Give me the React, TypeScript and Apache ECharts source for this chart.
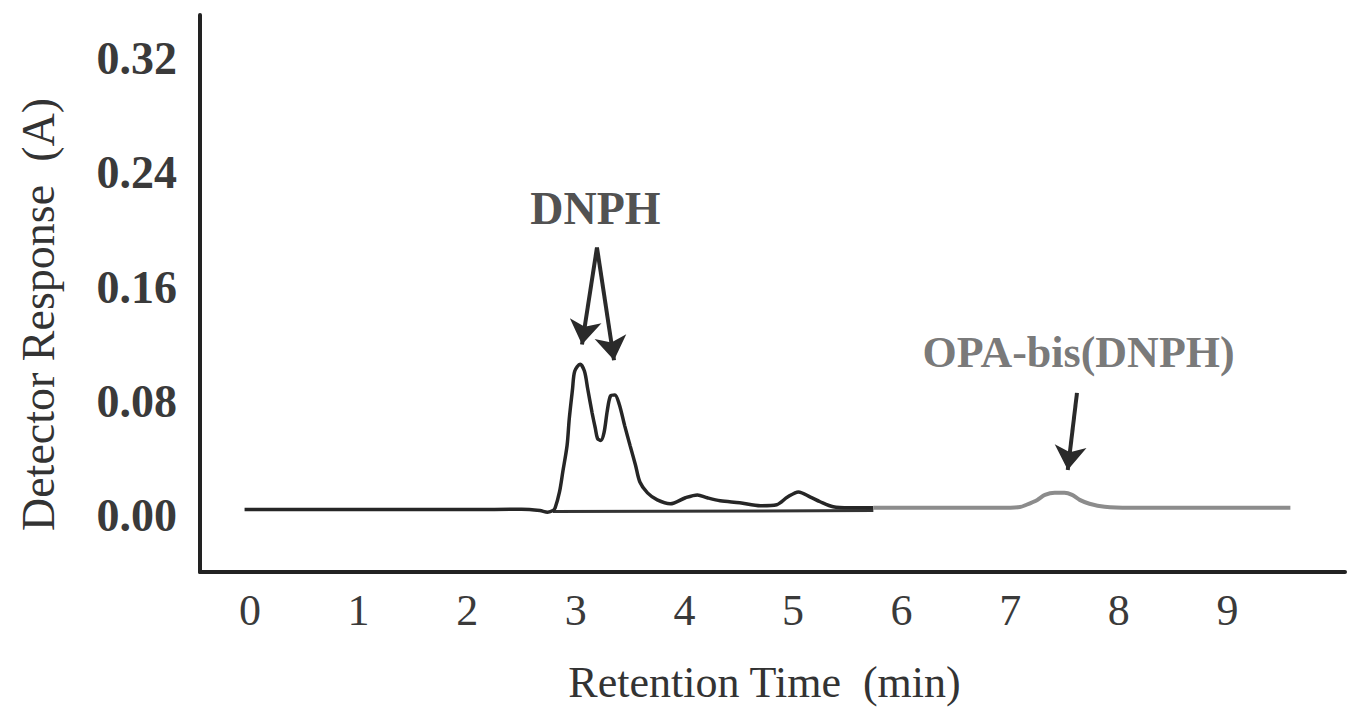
import React, { useEffect, useRef } from "react";
import * as echarts from "echarts";

const yTicks = [0, 0.08, 0.16, 0.24, 0.32];
const xTicks = [0, 1, 2, 3, 4, 5, 6, 7, 8, 9];

// Early eluting trace (DNPH region), minutes / absorbance
const blackT = [-0.05, 0.5, 1.0, 1.5, 2.0, 2.5, 2.67, 2.74, 2.79, 2.81, 2.85, 2.88, 2.92, 2.94, 2.97, 2.99, 3.04, 3.08, 3.11, 3.15, 3.18, 3.2, 3.23, 3.26, 3.29, 3.32, 3.36, 3.4, 3.45, 3.5, 3.55, 3.59, 3.66, 3.75, 3.87, 4.01, 4.12, 4.21, 4.33, 4.51, 4.7, 4.85, 4.95, 5.05, 5.16, 5.25, 5.37, 5.52, 5.74];
const blackV = [0.0042, 0.0042, 0.0042, 0.0043, 0.0043, 0.0044, 0.0035, 0.0024, 0.0035, 0.0055, 0.0166, 0.0305, 0.0492, 0.0679, 0.0886, 0.101, 0.106, 0.101, 0.0886, 0.072, 0.061, 0.054, 0.0526, 0.058, 0.0734, 0.0838, 0.0845, 0.078, 0.063, 0.049, 0.0353, 0.0235, 0.0159, 0.011, 0.0083, 0.0125, 0.0145, 0.0125, 0.0104, 0.009, 0.0069, 0.0076, 0.013, 0.0166, 0.013, 0.0097, 0.0062, 0.0055, 0.0055];

// Later trace (OPA-bis(DNPH) region)
const grayT = [5.74, 6.3, 6.91, 7.09, 7.15, 7.25, 7.32, 7.41, 7.5, 7.57, 7.64, 7.73, 7.87, 8.1, 8.8, 9.58];
const grayV = [0.0055, 0.0055, 0.0055, 0.006, 0.0076, 0.011, 0.0145, 0.016, 0.016, 0.0145, 0.011, 0.0083, 0.0062, 0.0055, 0.0055, 0.0055];

// Integration baseline under the DNPH peaks
const baseT = [2.79, 5.74];
const baseV = [0.0028, 0.0035];

// Annotations
const labelNames = ["DNPH", "OPA-bis(DNPH)"];
const labelPos = [[3.18, 0.215], [7.63, 0.114]];
const arrows = [
  [[3.195, 0.1877], [3.057, 0.1198]],
  [[3.195, 0.1877], [3.352, 0.1087]],
  [[7.615, 0.0859], [7.53, 0.0319]],
];

const zip = (a: number[], b: number[]) => a.map((v, i) => [v, b[i]]);

export default function App() {
  const ref = useRef<HTMLDivElement>(null);
  useEffect(() => {
    document.body.style.margin = "0";
    const chart = echarts.init(ref.current!, null, { renderer: "svg" });
    const serif = "Liberation Serif";
    chart.setOption({
      animation: false,
      backgroundColor: "#ffffff",
      grid: { left: 200, right: 5, top: 15, bottom: 131 },
      xAxis: {
        type: "value",
        min: -0.4604,
        max: 10.083,
        name: "Retention Time  (min)",
        nameLocation: "middle",
        nameGap: 88,
        nameTextStyle: { fontFamily: serif, fontSize: 44, color: "#333", padding: [0, 16, 0, 0] },
        axisLine: { show: true, onZero: false, lineStyle: { color: "#222", width: 4 } },
        axisTick: { show: false },
        splitLine: { show: false },
        axisLabel: {
          customValues: xTicks,
          margin: 16,
          fontFamily: serif,
          fontSize: 44,
          color: "#3a3a3a",
          formatter: (v: number) => String(v),
        },
      },
      yAxis: {
        type: "value",
        min: -0.03947,
        max: 0.3504,
        name: "Detector Response  (A)",
        nameLocation: "middle",
        nameRotate: 90,
        nameGap: 139,
        nameTextStyle: { fontFamily: serif, fontSize: 46, color: "#333", padding: [0, 42, 0, 0] },
        axisLine: { show: true, onZero: false, lineStyle: { color: "#222", width: 4 } },
        axisTick: { show: false },
        splitLine: { show: false },
        axisLabel: {
          customValues: yTicks,
          margin: 23,
          fontFamily: serif,
          fontSize: 46,
          fontWeight: "bold",
          color: "#3a3a3a",
          formatter: (v: number) => v.toFixed(2),
        },
      },
      series: [
        {
          type: "line",
          data: zip(baseT, baseV),
          symbol: "none",
          lineStyle: { color: "#333", width: 3 },
          silent: true,
        },
        {
          type: "line",
          data: zip(blackT, blackV),
          symbol: "none",
          smooth: 0.3,
          lineStyle: { color: "#262626", width: 3.5 },
          silent: true,
        },
        {
          type: "line",
          data: zip(grayT, grayV),
          symbol: "none",
          smooth: 0.3,
          lineStyle: { color: "#8c8c8c", width: 4 },
          silent: true,
          markLine: {
            silent: true,
            symbol: ["none", "arrow"],
            symbolSize: 24,
            label: { show: false },
            lineStyle: { color: "#2a2a2a", width: 4, type: "solid" },
            data: arrows.map((a) => [{ coord: a[0] }, { coord: a[1] }]),
          },
        },
        {
          type: "scatter",
          symbolSize: 0,
          silent: true,
          data: [
            { name: labelNames[0], value: labelPos[0] },
            {
              name: labelNames[1],
              value: labelPos[1],
              label: { fontSize: 44, color: "#555" },
            },
          ],
          label: {
            show: true,
            position: "inside",
            formatter: "{b}",
            fontFamily: serif,
            fontWeight: "bold",
            fontSize: 46,
            color: "#222",
          },
          emphasis: { disabled: true },
        },
      ],
    });
    return () => chart.dispose();
  }, []);
  return <div ref={ref} style={{ width: 1350, height: 709 }} />;
}
